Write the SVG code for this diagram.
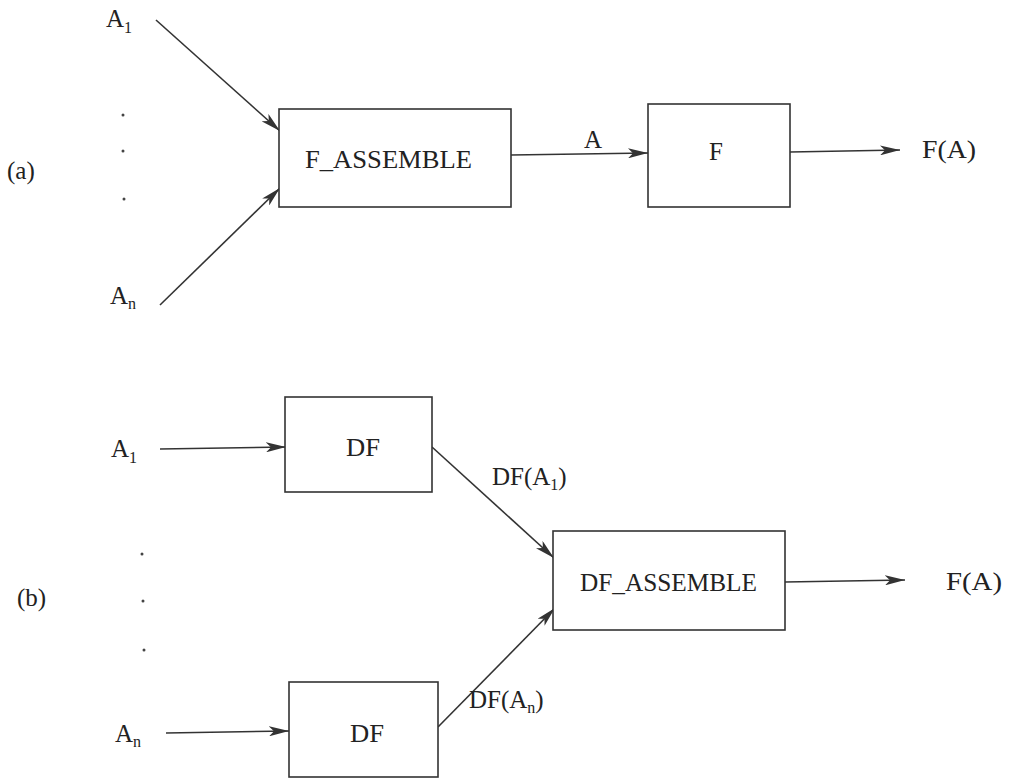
<svg xmlns="http://www.w3.org/2000/svg" width="1028" height="780" viewBox="0 0 1028 780">
<style>
text{font-family:"Liberation Serif","Times New Roman",serif;font-size:25px;fill:#222}
.sub{font-size:16px}
.box{fill:#fff;stroke:#333;stroke-width:1.6}
.edge{stroke:#333;stroke-width:1.6;fill:none;marker-end:url(#ah)}
.dot{fill:#444}
</style>
<defs>
<marker id="ah" viewBox="0 0 20 10" refX="20" refY="5" markerWidth="20" markerHeight="10" markerUnits="userSpaceOnUse" orient="auto">
<path d="M0,0 L20,5 L0,10 L5,5 Z" fill="#333"/>
</marker>
</defs>
<rect width="1028" height="780" fill="#fff"/>
<g id="connectors">
<line class="edge" x1="156" y1="20" x2="280" y2="131"/>
<line class="edge" x1="160" y1="305" x2="280" y2="188"/>
<line class="edge" x1="511" y1="155" x2="648" y2="153"/>
<line class="edge" x1="790" y1="152" x2="900" y2="150"/>
<line class="edge" x1="160" y1="449" x2="286" y2="447"/>
<line class="edge" x1="166" y1="733" x2="289" y2="731"/>
<line class="edge" x1="432" y1="447" x2="554" y2="558"/>
<line class="edge" x1="438" y1="727" x2="555" y2="608"/>
<line class="edge" x1="785" y1="582" x2="905" y2="580"/>
</g>
<g id="label-a"><text x="7" y="179">(a)</text></g>
<g id="label-b"><text x="17" y="606">(b)</text></g>
<g id="top-A1"><text x="106" y="27">A<tspan class="sub" dy="6">1</tspan></text></g>
<g id="top-An"><text x="110" y="304">A<tspan class="sub" dy="5">n</tspan></text></g>
<g id="top-dots">
<circle class="dot" cx="123" cy="115" r="1.5"/>
<circle class="dot" cx="123" cy="151" r="1.5"/>
<circle class="dot" cx="124" cy="199" r="1.5"/>
</g>
<g id="f-assemble">
<rect class="box" x="279" y="109" width="232" height="98"/>
<text x="305" y="168" textLength="167" lengthAdjust="spacingAndGlyphs">F_ASSEMBLE</text>
</g>
<g id="edge-label-A"><text x="584" y="148">A</text></g>
<g id="f-box">
<rect class="box" x="648" y="104" width="142" height="103"/>
<text x="709" y="160">F</text>
</g>
<g id="top-FA"><text x="922" y="158" textLength="54" lengthAdjust="spacingAndGlyphs">F(A)</text></g>
<g id="bot-A1"><text x="111" y="457">A<tspan class="sub" dy="6">1</tspan></text></g>
<g id="bot-An"><text x="115" y="742">A<tspan class="sub" dy="5">n</tspan></text></g>
<g id="bot-dots">
<circle class="dot" cx="142" cy="554" r="1.5"/>
<circle class="dot" cx="143" cy="601" r="1.5"/>
<circle class="dot" cx="144" cy="650" r="1.5"/>
</g>
<g id="df1">
<rect class="box" x="285" y="397" width="147" height="95"/>
<text x="346" y="456" textLength="34" lengthAdjust="spacingAndGlyphs">DF</text>
</g>
<g id="df2">
<rect class="box" x="289" y="682" width="149" height="95"/>
<text x="350" y="742" textLength="34" lengthAdjust="spacingAndGlyphs">DF</text>
</g>
<g id="label-dfa1"><text x="492" y="485">DF(A<tspan class="sub" dy="5">1</tspan><tspan dy="-5">)</tspan></text></g>
<g id="label-dfan"><text x="469" y="708">DF(A<tspan class="sub" dy="5">n</tspan><tspan dy="-5">)</tspan></text></g>
<g id="df-assemble">
<rect class="box" x="553" y="531" width="232" height="99"/>
<text x="580" y="591" textLength="177" lengthAdjust="spacingAndGlyphs">DF_ASSEMBLE</text>
</g>
<g id="bot-FA"><text x="946" y="590" textLength="56" lengthAdjust="spacingAndGlyphs">F(A)</text></g>
</svg>
